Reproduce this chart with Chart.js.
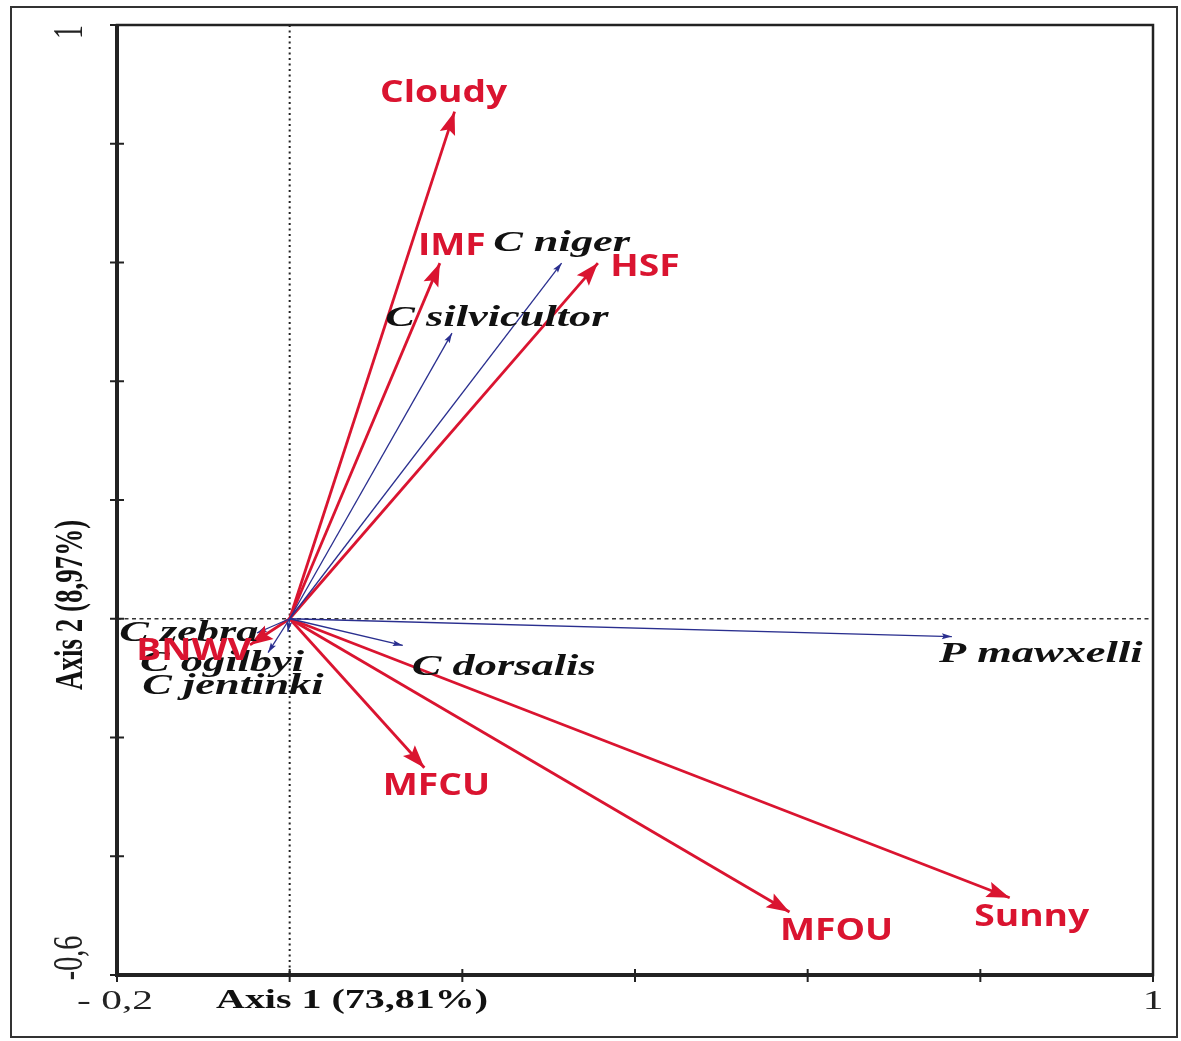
<!DOCTYPE html>
<html>
<head>
<meta charset="UTF-8">
<title>Biplot</title>
<script src="https://cdn.jsdelivr.net/npm/chart.js@4.4.0/dist/chart.umd.min.js"></script>
<style>body{margin:0;background:#fff}</style>
</head>
<body>
<canvas id="chart" width="1181" height="1041"></canvas>
<script>
// environmental variables (red arrows)
const envNames = ['Cloudy', 'IMF', 'HSF', 'BNWV', 'MFCU', 'MFOU', 'Sunny'];
const envX = [0.191, 0.174, 0.357, -0.046, 0.156, 0.579, 0.834];
const envY = [0.854, 0.599, 0.599, -0.044, -0.251, -0.494, -0.470];

// species (blue arrows)
const sppNames = ['C niger', 'C silvicultor', 'P mawxelli', 'C dorsalis', 'C zebra', 'C ogilbyi', 'C jentinki'];
const sppX = [0.315, 0.188, 0.767, 0.131, -0.038, -0.025, -0.002];
const sppY = [0.599, 0.481, -0.030, -0.045, -0.024, -0.057, -0.022];

const xTicks = [-0.2, 0, 0.2, 0.4, 0.6, 0.8, 1];
const xTickLabels = ['- 0,2', '', '', '', '', '', '1'];
const yTicks = [-0.6, -0.4, -0.2, 0, 0.2, 0.4, 0.6, 0.8, 1];
const yTickLabels = ['-0,6', '', '', '', '', '', '', '', '1'];
const xTitle = 'Axis 1 (73,81%)';
const yTitle = 'Axis 2 (8,97%)';

// label offsets from arrow tips, in pixels
const envOffsets = [[-11, -19], [12, -17], [47, 4], [-56, 6], [12, 18], [47, 19], [22, 19]];
const sppOffsets = [[0, -20], [45, -15], [89, 18], [101, 22], [-68, 0], [-46, 11], [-55, 54]];

const RED = '#da1430';
const BLUE = '#2a2f8f';
const STRETCH = 1.48; // the original picture is stretched sideways

const datasets = [];
sppNames.forEach((n, i) => datasets.push({
    label: n, data: [{x: 0, y: 0}, {x: sppX[i], y: sppY[i]}],
    showLine: true, borderColor: BLUE, borderWidth: 1.3, pointRadius: 0
}));
envNames.forEach((n, i) => datasets.push({
    label: n, data: [{x: 0, y: 0}, {x: envX[i], y: envY[i]}],
    showLine: true, borderColor: RED, borderWidth: 2.8, pointRadius: 0
}));

function arrowHead(ctx, x0, y0, x1, y1, len, wid, color) {
    const a = Math.atan2(y1 - y0, x1 - x0);
    ctx.save();
    ctx.translate(x1, y1);
    ctx.rotate(a);
    ctx.beginPath();
    ctx.moveTo(0, 0);
    ctx.lineTo(-len, wid / 2);
    ctx.lineTo(-len * 0.82, 0);
    ctx.lineTo(-len, -wid / 2);
    ctx.closePath();
    ctx.fillStyle = color;
    ctx.fill();
    ctx.restore();
}

// text with a stretch factor; rot = true draws it upright (rotated -90deg)
function text(ctx, s, x, y, sx, sy, rot) {
    ctx.save();
    ctx.translate(x, y);
    if (rot) ctx.rotate(-Math.PI / 2);
    ctx.scale(sx, sy);
    ctx.fillText(s, 0, 0);
    ctx.restore();
}

const biplot = {
    id: 'biplot',
    beforeDatasetsDraw(chart) {
        const ctx = chart.ctx, xs = chart.scales.x, ys = chart.scales.y, a = chart.chartArea;
        const x0 = xs.getPixelForValue(0), y0 = ys.getPixelForValue(0);
        ctx.save();
        ctx.strokeStyle = '#222';
        ctx.lineWidth = 2;
        ctx.setLineDash([2, 3.5]);
        ctx.beginPath();
        ctx.moveTo(x0, a.top); ctx.lineTo(x0, a.bottom);
        ctx.stroke();
        ctx.strokeStyle = '#333';
        ctx.lineWidth = 1.5;
        ctx.setLineDash([4, 3.5]);
        ctx.beginPath();
        ctx.moveTo(a.left, y0); ctx.lineTo(a.right, y0);
        ctx.stroke();
        ctx.restore();
    },
    afterDatasetsDraw(chart) {
        const ctx = chart.ctx, xs = chart.scales.x, ys = chart.scales.y, a = chart.chartArea;
        const x0 = xs.getPixelForValue(0), y0 = ys.getPixelForValue(0);

        // arrowheads
        sppNames.forEach((n, i) => {
            arrowHead(ctx, x0, y0, xs.getPixelForValue(sppX[i]), ys.getPixelForValue(sppY[i]), 10, 6, BLUE);
        });
        envNames.forEach((n, i) => {
            arrowHead(ctx, x0, y0, xs.getPixelForValue(envX[i]), ys.getPixelForValue(envY[i]), 23, 16, RED);
        });

        // labels
        ctx.save();
        ctx.textAlign = 'center';
        ctx.textBaseline = 'middle';
        ctx.fillStyle = '#111';
        ctx.font = 'italic bold 30px "Liberation Serif"';
        sppNames.forEach((n, i) => {
            text(ctx, n, xs.getPixelForValue(sppX[i]) + sppOffsets[i][0], ys.getPixelForValue(sppY[i]) + sppOffsets[i][1], STRETCH, 1);
        });
        ctx.fillStyle = RED;
        ctx.font = 'bold 31px "Open Sans"';
        envNames.forEach((n, i) => {
            text(ctx, n, xs.getPixelForValue(envX[i]) + envOffsets[i][0], ys.getPixelForValue(envY[i]) + envOffsets[i][1], 1.2, 1);
        });
        ctx.restore();

        // plot box
        ctx.save();
        ctx.strokeStyle = '#222';
        ctx.lineWidth = 2.5;
        ctx.strokeRect(a.left, a.top, a.right - a.left, a.bottom - a.top);
        ctx.lineWidth = 4;
        ctx.beginPath();
        ctx.moveTo(a.left, a.top); ctx.lineTo(a.left, a.bottom); ctx.lineTo(a.right, a.bottom);
        ctx.stroke();

        // ticks
        ctx.lineWidth = 2;
        xTicks.forEach(v => {
            const px = xs.getPixelForValue(v);
            ctx.beginPath(); ctx.moveTo(px, a.bottom - 6); ctx.lineTo(px, a.bottom + 7); ctx.stroke();
        });
        yTicks.forEach(v => {
            const py = ys.getPixelForValue(v);
            ctx.beginPath(); ctx.moveTo(a.left - 7, py); ctx.lineTo(a.left + 7, py); ctx.stroke();
        });

        // tick labels
        ctx.fillStyle = '#222';
        ctx.font = '28px "Liberation Serif"';
        ctx.textBaseline = 'middle';
        xTicks.forEach((v, i) => {
            if (!xTickLabels[i]) return;
            ctx.textAlign = i === 0 ? 'right' : 'center';
            const px = xs.getPixelForValue(v) + (i === 0 ? 36 : 0);
            text(ctx, xTickLabels[i], px, a.bottom + 27, STRETCH, 1);
        });
        ctx.textAlign = 'center';
        yTicks.forEach((v, i) => {
            if (!yTickLabels[i]) return;
            const py = ys.getPixelForValue(v);
            text(ctx, yTickLabels[i], 71, i === 0 ? py - 17 : py + 7, 1, STRETCH, true);
        });

        // axis titles
        ctx.fillStyle = '#111';
        ctx.font = 'bold 27px "Liberation Serif"';
        text(ctx, xTitle, 352, a.bottom + 26, STRETCH, 1);
        text(ctx, yTitle, 72, 605, 1, STRETCH, true);

        // outer frame
        ctx.strokeStyle = '#333';
        ctx.lineWidth = 2;
        ctx.strokeRect(11, 7, 1166, 1030);
        ctx.restore();
    }
};

const ctx = document.getElementById('chart').getContext('2d');
const chart = new Chart(ctx, {
    type: 'scatter',
    data: {datasets: datasets},
    options: {
        responsive: false,
        animation: false,
        layout: {padding: {left: 117, top: 25, right: 28, bottom: 66}},
        plugins: {legend: {display: false}, tooltip: {enabled: false}},
        scales: {
            x: {type: 'linear', min: -0.2, max: 1, display: false},
            y: {type: 'linear', min: -0.6, max: 1, display: false}
        }
    },
    plugins: [biplot]
});
</script>
</body>
</html>
